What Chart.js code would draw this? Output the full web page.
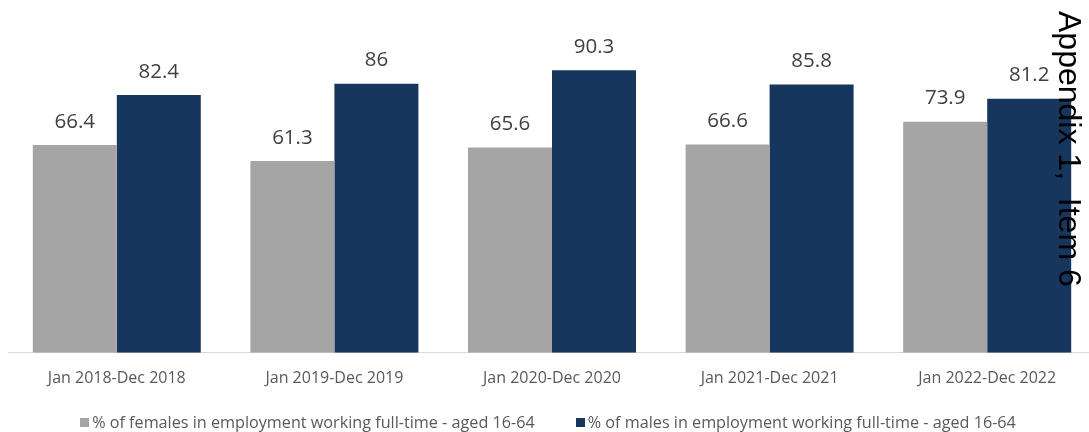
<!DOCTYPE html>
<html>
<head>
<meta charset="utf-8">
<script src="https://cdn.jsdelivr.net/npm/chart.js@4/dist/chart.umd.min.js"></script>
<style>
  html, body { margin: 0; padding: 0; overflow: hidden; background: #ffffff; }
  #wrap { position: relative; width: 1089px; height: 432px; overflow: hidden; }
  #chart { position: absolute; left: 0; top: 0; }
  #legend {
    position: absolute; left: 0; top: 412px; width: 1096px;
    display: flex; justify-content: center; gap: 41px;
    font-family: "Open Sans", sans-serif; font-size: 16.2px; line-height: 20px; color: #595959;
  }
  #legend .item { display: flex; align-items: center; white-space: nowrap; }
  #legend .swatch { width: 9px; height: 9px; margin-right: 3px; }
  #stamp {
    position: absolute; left: 1054px; top: 11px;
    writing-mode: vertical-rl; white-space: pre;
    font-family: "Liberation Sans", Arial, sans-serif; font-size: 32px; line-height: 32px; color: #000000;
  }
</style>
</head>
<body>
<div id="wrap">
  <canvas id="chart" width="1096" height="432"></canvas>
  <div id="legend"></div>
  <div id="stamp">Appendix 1,  Item 6</div>
</div>
<script>
const categories = [
  'Jan 2018-Dec 2018',
  'Jan 2019-Dec 2019',
  'Jan 2020-Dec 2020',
  'Jan 2021-Dec 2021',
  'Jan 2022-Dec 2022'
];
const femaleFullTime = [66.4, 61.3, 65.6, 66.6, 73.9];
const maleFullTime = [82.4, 86, 90.3, 85.8, 81.2];
const seriesNames = [
  '% of females in employment working full-time - aged 16-64',
  '% of males in employment working full-time - aged 16-64'
];
const seriesColors = ['#A5A5A5', '#17365D'];

// Value labels centred above each bar
const valueLabels = {
  id: 'valueLabels',
  afterDatasetsDraw(chart) {
    const ctx = chart.ctx;
    ctx.save();
    ctx.font = '20.5px "Open Sans", sans-serif';
    ctx.fillStyle = '#404040';
    ctx.textAlign = 'center';
    ctx.textBaseline = 'alphabetic';
    chart.data.datasets.forEach((ds, i) => {
      chart.getDatasetMeta(i).data.forEach((bar, j) => {
        ctx.fillText(String(ds.data[j]), bar.x, bar.y - 17.5);
      });
    });
    ctx.restore();
  }
};

const chart = new Chart(document.getElementById('chart'), {
  type: 'bar',
  data: {
    labels: categories,
    datasets: [
      { label: seriesNames[0], data: femaleFullTime, backgroundColor: seriesColors[0] },
      { label: seriesNames[1], data: maleFullTime, backgroundColor: seriesColors[1] }
    ]
  },
  options: {
    responsive: false,
    animation: false,
    devicePixelRatio: 1,
    layout: { padding: { left: 8, right: 0, top: 40, bottom: 28 } },
    datasets: { bar: { categoryPercentage: 0.772, barPercentage: 1.0 } },
    scales: {
      x: {
        grid: { display: false, drawTicks: false },
        border: { display: true, color: '#D9D9D9', width: 1 },
        ticks: {
          color: '#595959',
          padding: 16,
          font: { family: '"Open Sans", sans-serif', size: 16 },
          maxRotation: 0
        }
      },
      y: { display: false, min: 0, max: 100 }
    },
    plugins: {
      legend: { display: false },
      tooltip: { enabled: false }
    }
  },
  plugins: [valueLabels]
});

// Legend built from the chart's own datasets
const legendEl = document.getElementById('legend');
chart.data.datasets.forEach(ds => {
  const item = document.createElement('div');
  item.className = 'item';
  const sw = document.createElement('span');
  sw.className = 'swatch';
  sw.style.background = ds.backgroundColor;
  const txt = document.createElement('span');
  txt.textContent = ds.label;
  item.appendChild(sw);
  item.appendChild(txt);
  legendEl.appendChild(item);
});
</script>
</body>
</html>
